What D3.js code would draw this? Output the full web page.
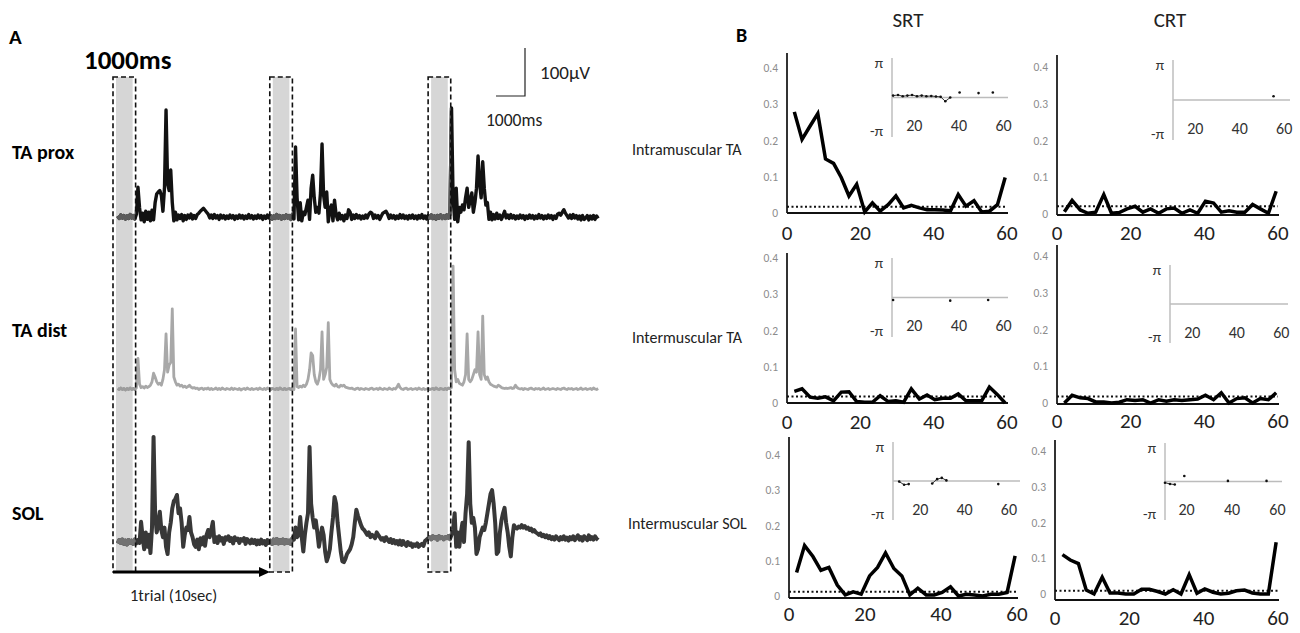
<!DOCTYPE html>
<html><head><meta charset="utf-8">
<script src="https://cdn.jsdelivr.net/npm/d3@7"></script>
<style>
body{margin:0;background:#fff}
svg{display:block}
text{font-family:Carlito,Lato,"Open Sans",sans-serif}
</style>
</head><body>
<svg id="c" width="1300" height="633"></svg>
<script>
// ---------------- Panel A data (EMG traces, µV, sampled every 0.1 s from t = 0.3 s) ----------------
const traceNames = ["TA prox", "TA dist", "SOL"];
const traceStart = 0.3, traceStep = 0.1;
const taProx = [
2,-3,4,-2,3,-4,2,-3,5,-2,
3,-4,6,62,20,-6,8,-10,12,-5,
10,-8,14,-6,30,48,52,55,45,12,
60,223,70,55,98,30,-8,10,-6,4,
-3,5,-8,3,-5,4,-2,6,-4,3,
-3,5,8,12,15,18,14,10,6,-2,
4,-3,5,-2,3,-5,4,-2,3,-4,
2,-3,4,-2,3,-5,2,-3,4,-2,
3,-4,2,-3,5,-2,3,-4,2,-3,
4,-2,3,-5,2,-3,4,-2,3,-4,
2,-3,5,-2,3,-4,2,-3,4,-2,
3,-5,6,-4,146,40,-6,30,-8,10,
5,20,35,-5,60,87,40,10,20,8,
50,152,45,20,52,-10,15,25,-8,35,
5,-6,8,-4,3,-8,4,-3,15,10,
-5,4,-3,5,-2,3,-4,2,-3,4,
-2,6,10,8,-3,4,-2,3,-5,2,
8,10,12,6,-3,4,-2,3,-4,2,
-3,5,-2,4,-3,2,-4,3,-2,4,
-3,2,-4,3,-2,5,-3,2,-4,3,
-2,4,-3,2,-4,3,-2,4,-3,2,
-3,4,-2,5,227,40,-5,60,-10,20,
10,25,15,40,60,20,35,50,10,30,
60,127,70,40,115,60,25,30,-5,10,
-6,5,-4,8,-3,4,-5,3,12,-2,
4,-3,5,-2,3,-4,2,-3,4,-2,
3,-5,2,-3,4,-2,3,-4,2,-3,
5,-2,3,-4,2,-3,4,-2,3,-5,
2,-3,6,8,4,10,15,8,3,-2,
4,-3,5,-2,3,-4,2,-6,3,-5,
-2,3,-6,2,-4,3,-5,2,-3];
const taDist = [
1,-1,2,-1,1,-2,1,-1,2,-1,
1,-1,2,64,10,3,5,2,6,3,
5,8,15,33,25,15,10,12,8,20,
40,115,35,50,55,167,25,15,8,10,
6,8,4,6,3,5,8,4,2,3,
1,2,-1,1,2,-1,1,0,2,-1,
1,-1,0,2,-1,1,-1,2,0,-1,
1,0,-1,2,-1,1,0,-1,1,-2,
0,1,-1,2,0,-1,1,-1,0,1,
-1,2,0,-1,1,-1,2,0,-1,1,
0,-1,1,-1,2,0,-1,1,-1,0,
1,-1,2,-1,125,5,3,6,4,8,
5,10,20,40,75,70,30,15,10,20,
40,119,20,30,45,138,20,12,8,6,
10,5,4,8,6,8,4,3,2,1,
2,0,-1,1,2,-1,1,0,-1,1,
0,-1,1,2,-1,0,1,-1,2,0,
-1,1,0,-1,2,0,-1,1,0,4,
10,3,0,-1,1,2,-1,0,1,-1,
0,1,-1,2,0,-1,1,-1,0,1,
-1,0,1,-1,2,0,-1,1,0,-1,
1,-1,2,1,3,256,40,15,20,12,
10,8,15,30,115,20,15,20,30,40,
35,119,30,20,152,30,20,25,15,10,
8,6,5,4,8,6,3,2,1,2,
1,2,3,1,2,8,3,1,0,1,
-1,1,0,-1,1,2,0,-1,1,0,
1,-1,0,2,-1,0,1,-1,0,1,
0,-1,1,0,-1,1,2,0,-1,1,
0,1,-1,0,1,-1,0,2,-1,0,
1,-1,0,1,-1,2,0,-1,1];
const sol = [
-3,4,-2,5,-4,3,-5,4,-2,3,
-4,5,-3,4,-2,42,10,-15,20,-10,
15,-23,30,219,60,20,35,63,25,10,
30,-10,-25,20,40,70,85,90,98,60,
70,40,-10,15,30,25,52,20,10,-5,
-10,5,-15,8,-5,10,-8,15,25,10,
25,42,0,10,-2,12,3,8,-4,10,
5,12,2,8,-3,10,4,7,-2,6,
3,8,-4,6,2,-3,5,-2,4,-5,
3,-4,5,-3,2,-6,4,-2,3,-4,
5,-2,6,-3,4,-2,5,-3,4,-2,
3,-4,8,5,30,10,15,52,10,-20,
15,40,60,198,80,50,30,45,20,-10,
10,30,15,-20,-40,-30,-15,20,50,94,
80,40,10,-20,-40,-42,-35,-25,-20,-15,
-5,10,40,67,55,45,35,28,25,20,
15,20,10,15,12,8,20,15,10,5,
8,2,10,5,0,6,-2,4,-3,2,
-5,3,-6,2,-4,-8,0,-6,-3,-10,
-5,-8,-3,-10,-6,-4,-8,2,5,8,
10,6,12,8,10,5,12,8,10,6,
10,8,12,6,15,25,60,-10,20,-10,
20,40,0,60,100,208,80,40,50,30,
-25,-15,10,20,30,25,40,60,80,100,
108,80,40,-25,-20,20,45,60,71,40,
20,-10,-30,10,35,30,28,32,30,35,
30,33,28,30,25,28,22,25,20,18,
15,18,12,15,10,14,8,12,6,10,
5,12,8,4,10,6,12,5,9,3,
10,6,12,4,9,14,5,10,3,12,
8,4,14,6,10,5,12,7,4];
const windowStarts = [0, 10.05, 20.2];   // s, 1000 ms analysis windows
const windowLength = 1.45;
const trialLength = 10;

// ---------------- Panel B data (coherence vs frequency, Hz) ----------------
const freqs = [2.0,4.1,6.3,8.4,10.5,12.7,14.8,16.9,19.0,21.2,23.3,25.4,27.6,29.7,31.8,33.9,36.1,38.2,40.3,42.5,44.6,46.7,48.8,51.0,53.1,55.2,57.4,59.5];
const rowLabels = ["Intramuscular TA", "Intermuscular TA", "Intermuscular SOL"];
const colLabels = ["SRT", "CRT"];
const cohIntraTA_SRT = [0.279,0.203,0.240,0.274,0.149,0.137,0.098,0.047,0.079,0.003,0.028,0.005,0.023,0.047,0.014,0.021,0.014,0.009,0.009,0.008,0.006,0.051,0.019,0.034,0.003,0.005,0.023,0.098];
const cohIntraTA_CRT = [0.006,0.037,0.011,0.002,0.005,0.053,0.002,0.004,0.014,0.021,0.005,0.014,0.002,0.014,0.016,0.002,0.011,0.002,0.035,0.030,0.005,0.009,0.005,0.005,0.026,0.014,0.002,0.062];
const cohInterTA_SRT = [0.032,0.039,0.016,0.013,0.017,0.006,0.030,0.031,0.004,0.002,0.002,0.020,0.004,0.006,0.002,0.039,0.011,0.022,0.009,0.013,0.013,0.025,0.006,0.006,0.006,0.044,0.023,0.000];
const cohInterTA_CRT = [0.000,0.021,0.014,0.012,0.003,0.003,0.000,0.002,0.009,0.007,0.009,0.000,0.009,0.005,0.009,0.007,0.009,0.011,0.021,0.009,0.028,0.000,0.012,0.014,0.000,0.012,0.009,0.028];
const cohInterSOL_SRT = [0.067,0.143,0.112,0.073,0.081,0.031,0.003,0.012,0.005,0.057,0.081,0.122,0.078,0.057,0.003,0.022,0.003,0.003,0.010,0.026,0.000,0.005,0.003,0.000,0.005,0.005,0.010,0.114];
const cohInterSOL_CRT = [0.110,0.095,0.085,0.011,0.000,0.047,0.003,0.003,0.000,0.000,0.013,0.013,0.007,0.000,0.012,0.000,0.054,0.002,0.014,0.005,0.000,0.002,0.009,0.011,0.003,0.000,0.000,0.145];
const significance = [[0.017,0.021],[0.018,0.018],[0.012,0.009]];
const N = null;
const phIntraTA_SRT = [N,N,N,N,0.15,0.2,0.1,0.15,0.2,0.1,0.15,0.1,0.12,0.08,0.05,-0.3,0.0,N,0.4,N,N,N,0.35,N,N,0.4,N,N];
const phIntraTA_CRT = [N,N,N,N,N,N,N,N,N,N,N,N,N,N,N,N,N,N,N,N,N,N,N,N,N,0.3,N,N];
const phInterTA_SRT = [N,N,N,N,-0.2,N,N,N,N,N,N,N,N,N,N,N,-0.25,N,N,N,N,N,N,N,-0.2,N,N,N];
const phInterTA_CRT = [N,N,N,N,N,N,N,N,N,N,N,N,N,N,N,N,N,N,N,N,N,N,N,N,N,N,N,N];
const phInterSOL_SRT = [N,N,N,N,-0.05,-0.3,-0.25,N,N,N,N,-0.2,0.15,0.25,0.05,N,N,N,N,N,N,N,N,N,N,-0.25,N,N];
const phInterSOL_CRT = [N,N,N,N,-0.1,-0.2,-0.25,N,0.45,N,N,N,N,N,N,N,N,0.05,N,N,N,N,N,N,N,0.05,N,N];
const cohTicks = [0,0.1,0.2,0.3,0.4];
const freqTicks = [0,20,40,60];
const insetTicks = [20,40,60];

// ---------------- Drawing ----------------
const svg = d3.select("#c");
const defs = svg.append("defs");

// Panel A
const xT = d3.scaleLinear().domain([0, trialLength]).range([113, 269]);
const boxTop = 77, boxBottom = 572;
const traceCfg = [
  {values: taProx, base: 217, color: "#121212", win: "#5c5c5c", w: 3.4},
  {values: taDist, base: 389, color: "#a8a8a8", win: "#9c9c9c", w: 2.8},
  {values: sol,    base: 542, color: "#383838", win: "#727272", w: 4}
];
const labelY = [152, 330, 513];

svg.append("text").attr("x", 9).attr("y", 44).attr("font-size", 21).attr("font-weight", "bold").text("A");
svg.append("text").attr("x", 84).attr("y", 69).attr("font-size", 27).attr("font-weight", "bold").text("1000ms");

// gray windows
svg.selectAll("rect.win").data(windowStarts).join("rect")
  .attr("x", d => xT(d) + 3).attr("width", d => xT(d + windowLength) - xT(d) - 6)
  .attr("y", boxTop).attr("height", boxBottom - boxTop).attr("fill", "#d6d6d6");

const clip = defs.append("clipPath").attr("id", "winclip");
windowStarts.forEach(d => clip.append("rect").attr("x", xT(d)).attr("width", xT(d + windowLength) - xT(d)).attr("y", 0).attr("height", 633));

traceCfg.forEach((tc, k) => {
  const yS = d3.scaleLinear().domain([0, 100]).range([tc.base, tc.base - 48]);
  const line = d3.line().x((v, i) => xT(traceStart + i * traceStep)).y(v => yS(v));
  svg.append("path").attr("d", line(tc.values)).attr("fill", "none").attr("stroke", tc.color)
    .attr("stroke-width", tc.w).attr("stroke-linejoin", "round");
  svg.append("path").attr("d", line(tc.values)).attr("fill", "none").attr("stroke", tc.win)
    .attr("stroke-width", tc.w).attr("stroke-linejoin", "round").attr("clip-path", "url(#winclip)");
  svg.append("text").attr("x", 12).attr("y", labelY[k]).attr("dy", "0.35em").attr("font-size", 20)
    .attr("font-weight", "bold").text(traceNames[k]);
});

// dashed window outlines
svg.selectAll("rect.box").data(windowStarts).join("rect")
  .attr("x", d => xT(d)).attr("width", d => xT(d + windowLength) - xT(d))
  .attr("y", boxTop).attr("height", boxBottom - boxTop)
  .attr("fill", "none").attr("stroke", "#111").attr("stroke-width", 1.6).attr("stroke-dasharray", "5,3");

// trial arrow
svg.append("line").attr("x1", xT(0)).attr("x2", xT(trialLength) - 8).attr("y1", boxBottom).attr("y2", boxBottom)
  .attr("stroke", "#000").attr("stroke-width", 3);
svg.append("path").attr("d", `M${xT(trialLength) - 10},${boxBottom - 5}L${xT(trialLength) + 1},${boxBottom}L${xT(trialLength) - 10},${boxBottom + 5}Z`).attr("fill", "#000");
svg.append("text").attr("x", 130).attr("y", 595).attr("dy", "0.35em").attr("font-size", 16.5).attr("fill", "#222").text("1trial (10sec)");

// scale bar
svg.append("path").attr("d", "M525,48L525,96L496,96").attr("fill", "none").attr("stroke", "#222").attr("stroke-width", 1.2);
svg.append("text").attr("x", 540).attr("y", 72).attr("dy", "0.35em").attr("font-size", 19).attr("fill", "#222").text("100µV");
svg.append("text").attr("x", 486).attr("y", 120).attr("dy", "0.35em").attr("font-size", 17.5).attr("fill", "#222").text("1000ms");

// Panel B
svg.append("text").attr("x", 736).attr("y", 42).attr("font-size", 20).attr("font-weight", "bold").text("B");
const colCenters = [908, 1170];
colLabels.forEach((c, j) => svg.append("text").attr("x", colCenters[j]).attr("y", 20).attr("dy", "0.35em")
  .attr("text-anchor", "middle").attr("font-size", 21).attr("fill", "#222").text(c));
const rowLabelPos = [[632, 149], [632, 337], [628, 523]];
rowLabels.forEach((r, i) => svg.append("text").attr("x", rowLabelPos[i][0]).attr("y", rowLabelPos[i][1]).attr("dy", "0.35em")
  .attr("font-size", 16).attr("fill", "#222").text(r));

const coh = [[cohIntraTA_SRT, cohIntraTA_CRT], [cohInterTA_SRT, cohInterTA_CRT], [cohInterSOL_SRT, cohInterSOL_CRT]];
const phase = [[phIntraTA_SRT, phIntraTA_CRT], [phInterTA_SRT, phInterTA_CRT], [phInterSOL_SRT, phInterSOL_CRT]];
const panels = [
  [{ax: 787, top: 53, y0: 213, y4: 68, xr: 1007, axisY: 213, labY: 233, ix0: 892, ix1: 1008, fd: [10, 62], it: 58, ib: 137},
   {ax: 1057, top: 55, y0: 214, y4: 67, xr: 1278, axisY: 215, labY: 233, ix0: 1173, ix1: 1290, fd: [10, 62.6], it: 60, ib: 140}],
  [{ax: 787, top: 253, y0: 403, y4: 258, xr: 1007, axisY: 403, labY: 422, ix0: 892, ix1: 1008, fd: [10, 62], it: 258, ib: 337},
   {ax: 1057, top: 245, y0: 403, y4: 256, xr: 1278, axisY: 404, labY: 421, ix0: 1170, ix1: 1288, fd: [10, 63], it: 265, ib: 343}],
  [{ax: 789, top: 437, y0: 596, y4: 455, xr: 1017, axisY: 598, labY: 614, ix0: 893, ix1: 1020, fd: [7.7, 65], it: 442, ib: 520},
   {ax: 1055, top: 440, y0: 594, y4: 451, xr: 1278, axisY: 600, labY: 618, ix0: 1165, ix1: 1282, fd: [10.5, 62], it: 443, ib: 520}]
];

panels.forEach((row, i) => row.forEach((p, j) => {
  const g = svg.append("g");
  const x = d3.scaleLinear().domain([0, 60]).range([p.ax, p.xr]);
  const y = d3.scaleLinear().domain([0, 0.4]).range([p.y0, p.y4]);
  // inset (phase)
  const ix = d3.scaleLinear().domain(p.fd).range([p.ix0, p.ix1]);
  const iy = d3.scaleLinear().domain([-Math.PI, Math.PI]).range([p.ib, p.it]);
  g.append("line").attr("x1", p.ix0).attr("x2", p.ix0).attr("y1", p.it).attr("y2", p.ib).attr("stroke", "#b4b4b4").attr("stroke-width", 1.3);
  g.append("line").attr("x1", p.ix0).attr("x2", p.ix1).attr("y1", iy(0)).attr("y2", iy(0)).attr("stroke", "#bcbcbc").attr("stroke-width", 1.3);
  g.append("text").attr("x", p.ix0 - 9).attr("y", p.it + 5).attr("dy", "0.35em").attr("text-anchor", "end").attr("font-size", 15).attr("fill", "#333").text("π");
  g.append("text").attr("x", p.ix0 - 9).attr("y", p.ib - 6).attr("dy", "0.35em").attr("text-anchor", "end").attr("font-size", 15).attr("fill", "#333").text("-π");
  insetTicks.forEach(t => g.append("text").attr("x", ix(t)).attr("y", iy(0) + 28).attr("dy", "0.35em").attr("text-anchor", "middle")
    .attr("font-size", 16).attr("fill", "#333").text(t));
  const ph = phase[i][j];
  const pl = d3.line().defined(d => d != null).x((d, k) => ix(freqs[k])).y(d => iy(d));
  g.append("path").attr("d", pl(ph)).attr("fill", "none").attr("stroke", "#333").attr("stroke-width", 1);
  g.selectAll("circle").data(ph.map((d, k) => [freqs[k], d]).filter(d => d[1] != null)).join("circle")
    .attr("cx", d => ix(d[0])).attr("cy", d => iy(d[1])).attr("r", 1.3).attr("fill", "#111");
  // axes
  g.append("line").attr("x1", p.ax).attr("x2", p.ax).attr("y1", p.top).attr("y2", p.axisY).attr("stroke", "#333").attr("stroke-width", 2);
  g.append("line").attr("x1", p.ax).attr("x2", p.xr + 1).attr("y1", p.axisY).attr("y2", p.axisY).attr("stroke", "#111").attr("stroke-width", 2);
  cohTicks.forEach(t => g.append("text").attr("x", p.ax - 9).attr("y", y(t)).attr("dy", "0.35em").attr("text-anchor", "end")
    .attr("font-size", 11.5).attr("fill", "#8c8c8c").text(t === 0 ? "0" : d3.format(".1f")(t)));
  freqTicks.forEach(t => g.append("text").attr("x", x(t)).attr("y", p.labY).attr("dy", "0.35em").attr("text-anchor", "middle")
    .attr("font-size", 21).attr("fill", "#222").text(t));
  // significance level
  g.append("line").attr("x1", x(0)).attr("x2", p.xr).attr("y1", y(significance[i][j])).attr("y2", y(significance[i][j]))
    .attr("stroke", "#111").attr("stroke-width", 2).attr("stroke-dasharray", "2,2.5");
  // coherence
  const cl = d3.line().x((d, k) => x(freqs[k])).y(d => y(d));
  g.append("path").attr("d", cl(coh[i][j])).attr("fill", "none").attr("stroke", "#000").attr("stroke-width", 3.5)
    .attr("stroke-linejoin", "miter");
}));
</script>
</body></html>
